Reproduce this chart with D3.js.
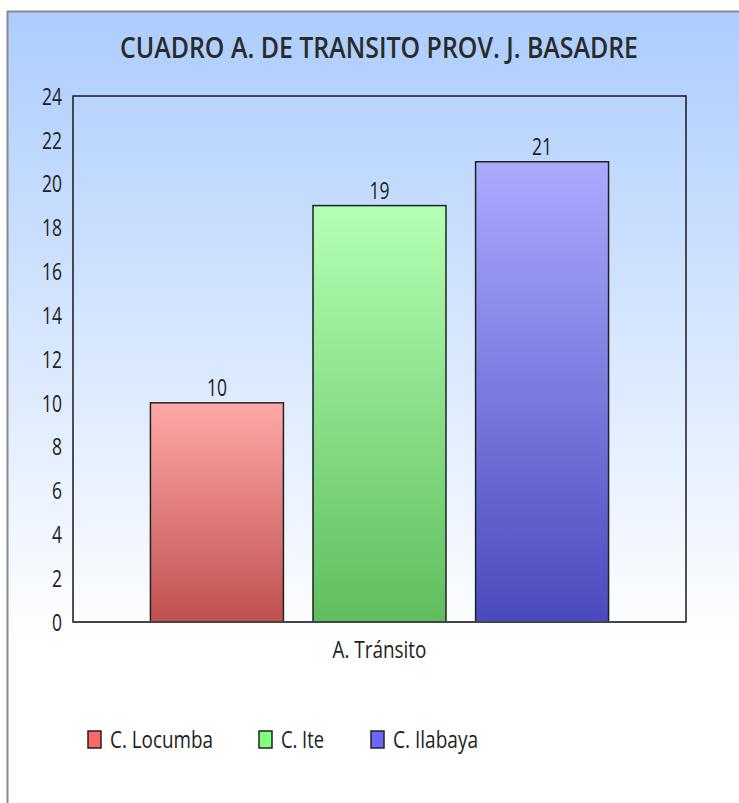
<!DOCTYPE html>
<html>
<head>
<meta charset="utf-8">
<script src="https://cdn.jsdelivr.net/npm/d3@7"></script>
<style>
  html, body { margin: 0; padding: 0; background: #fff; }
  text { font-family: "Open Sans", "DejaVu Sans", sans-serif; fill: #222; }
</style>
</head>
<body>
<div id="chart"></div>
<script>
const width = 739;
const height = 803;

// datos
const title = "CUADRO A. DE TRANSITO PROV. J. BASADRE";
const category = "A. Tránsito";
const series = ["C. Locumba", "C. Ite", "C. Ilabaya"];
const values = [10, 19, 21];
const yTicks = [0, 2, 4, 6, 8, 10, 12, 14, 16, 18, 20, 22, 24];

const barTop = ["#ffa8a8", "#b4ffb4", "#aaaaff"];
const barBottom = ["#c0504f", "#5ebe5e", "#4a4abe"];
const legendColor = ["#ff6868", "#80ff80", "#6868ff"];

const plot = { left: 73, right: 686, top: 96, bottom: 622 };
const digitW = 10; // ancho aprox. de cada cifra (fuente estrecha)

const svg = d3.select("#chart").append("svg")
  .attr("width", width)
  .attr("height", height);

const defs = svg.append("defs");

// fondo degradado
const bg = defs.append("linearGradient")
  .attr("id", "bg").attr("x1", 0).attr("y1", 0).attr("x2", 0).attr("y2", 1);
bg.append("stop").attr("offset", "0").attr("stop-color", "#accdfd");
bg.append("stop").attr("offset", "0.8").attr("stop-color", "#ffffff");
bg.append("stop").attr("offset", "1").attr("stop-color", "#ffffff");

series.forEach((s, i) => {
  const g = defs.append("linearGradient")
    .attr("id", "bar" + i).attr("x1", 0).attr("y1", 0).attr("x2", 0).attr("y2", 1);
  g.append("stop").attr("offset", "0").attr("stop-color", barTop[i]);
  g.append("stop").attr("offset", "1").attr("stop-color", barBottom[i]);
});

svg.append("rect")
  .attr("x", 8).attr("y", 12)
  .attr("width", width - 8).attr("height", height - 12)
  .attr("fill", "url(#bg)");

// borde gris
svg.append("path")
  .attr("d", `M7.5,${height} V11.5 H${width}`)
  .attr("fill", "none")
  .attr("stroke", "#8a8a8a")
  .attr("stroke-width", 2);

// título
svg.append("text")
  .attr("x", 379).attr("y", 58)
  .attr("text-anchor", "middle")
  .attr("font-size", 28)
  .attr("font-weight", 600)
  .attr("textLength", 518)
  .attr("lengthAdjust", "spacingAndGlyphs")
  .style("fill", "#2a2a2a")
  .text(title);

// escalas
const x0 = d3.scaleBand()
  .domain([category])
  .range([plot.left, plot.right])
  .paddingInner(0).paddingOuter(0.169);

const x1 = d3.scaleBand()
  .domain(series)
  .range([0, x0.bandwidth()])
  .paddingInner(0.182);

const y = d3.scaleLinear()
  .domain([0, 24])
  .range([plot.bottom, plot.top]);

// marco del área
svg.append("rect")
  .attr("x", plot.left).attr("y", plot.top)
  .attr("width", plot.right - plot.left).attr("height", plot.bottom - plot.top)
  .attr("fill", "none")
  .attr("stroke", "#1a1a1a")
  .attr("stroke-width", 1.5);

// eje Y
const yAxis = svg.append("g")
  .attr("transform", `translate(${plot.left},0)`)
  .call(d3.axisLeft(y).tickValues(yTicks).tickSize(0).tickPadding(11));
yAxis.select(".domain").remove();
yAxis.selectAll("text")
  .attr("font-family", "'Open Sans', sans-serif")
  .attr("font-size", 23)
  .attr("dy", "0.36em")
  .attr("textLength", d => String(d).length * digitW)
  .attr("lengthAdjust", "spacingAndGlyphs")
  .style("fill", "#222");

// barras
const bars = svg.append("g");
bars.selectAll("rect")
  .data(values)
  .enter().append("rect")
  .attr("x", (d, i) => x0(category) + x1(series[i]))
  .attr("y", d => y(d))
  .attr("width", x1.bandwidth())
  .attr("height", d => y(0) - y(d))
  .attr("fill", (d, i) => `url(#bar${i})`)
  .attr("stroke", "#222")
  .attr("stroke-width", 1.5);

bars.selectAll("text")
  .data(values)
  .enter().append("text")
  .attr("x", (d, i) => x0(category) + x1(series[i]) + x1.bandwidth() / 2)
  .attr("y", d => y(d) - 7)
  .attr("text-anchor", "middle")
  .attr("font-size", 23)
  .attr("textLength", d => String(d).length * digitW)
  .attr("lengthAdjust", "spacingAndGlyphs")
  .text(d => d);

// línea base
svg.append("line")
  .attr("x1", plot.left).attr("x2", plot.right)
  .attr("y1", plot.bottom).attr("y2", plot.bottom)
  .attr("stroke", "#444")
  .attr("stroke-width", 2);

// etiqueta de categoría
svg.append("text")
  .attr("x", x0(category) + x0.bandwidth() / 2)
  .attr("y", 658)
  .attr("text-anchor", "middle")
  .attr("font-size", 23)
  .attr("textLength", 94)
  .attr("lengthAdjust", "spacingAndGlyphs")
  .text(category);

// leyenda
const legendX = [88, 259, 371];
const legendW = [103, 43, 85];
const legend = svg.append("g");
series.forEach((s, i) => {
  legend.append("rect")
    .attr("x", legendX[i]).attr("y", 731)
    .attr("width", 13).attr("height", 17)
    .attr("fill", legendColor[i])
    .attr("stroke", "#222")
    .attr("stroke-width", 1.5);
  legend.append("text")
    .attr("x", legendX[i] + 22).attr("y", 748)
    .attr("font-size", 23)
    .attr("textLength", legendW[i])
    .attr("lengthAdjust", "spacingAndGlyphs")
    .text(s);
});
</script>
</body>
</html>
